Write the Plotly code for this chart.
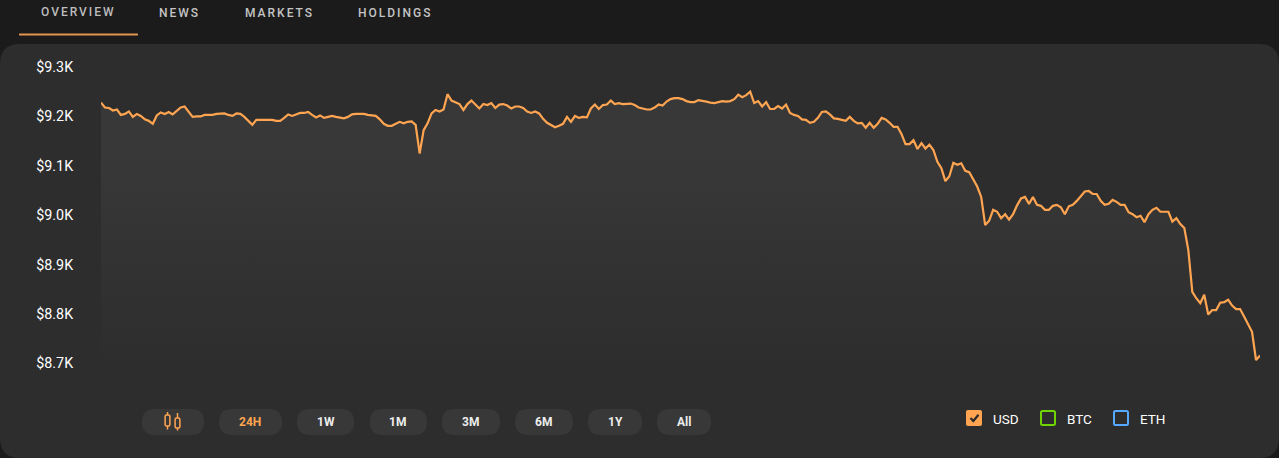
import plotly.graph_objects as go

W, H = 1279, 458
ML, MR, MT, MB = 101, 19, 50, 78

price = [
9226,9216,9215,9210,9212,9201,9203,9208,9197,9203,9199,9192,9189,9183,9200,9206,9203,9207,9202,9210,
9216,9218,9208,9197,9198,9198,9201,9201,9201,9203,9204,9204,9201,9199,9204,9203,9197,9189,9181,9191,
9191,9191,9191,9191,9189,9189,9195,9202,9199,9202,9205,9205,9207,9201,9196,9200,9195,9197,9199,9197,
9195,9194,9197,9202,9203,9203,9203,9201,9200,9199,9192,9183,9179,9179,9183,9187,9184,9187,9188,9181,
9123,9170,9184,9204,9211,9208,9212,9243,9230,9227,9223,9211,9223,9230,9223,9214,9223,9221,9225,9215,
9222,9223,9220,9214,9218,9218,9215,9208,9205,9208,9204,9193,9185,9180,9176,9179,9183,9197,9187,9199,
9195,9197,9196,9214,9222,9213,9221,9222,9230,9223,9225,9223,9224,9224,9221,9216,9214,9212,9212,9216,
9222,9220,9228,9233,9235,9235,9233,9229,9227,9227,9231,9230,9228,9226,9225,9227,9229,9228,9229,9233,
9242,9237,9241,9248,9225,9229,9218,9227,9213,9213,9219,9214,9222,9205,9201,9199,9192,9191,9185,9187,
9195,9207,9208,9202,9194,9193,9191,9189,9197,9189,9184,9185,9175,9185,9175,9183,9195,9192,9185,9177,
9177,9162,9142,9142,9150,9132,9144,9133,9141,9130,9106,9093,9067,9077,9104,9100,9103,9088,9085,9071,
9056,9035,8978,8987,9009,9005,8992,9000,8989,9000,9018,9032,9035,9021,9035,9019,9017,9009,9009,9017,9019,
9014,9000,9016,9019,9027,9036,9046,9047,9041,9041,9027,9019,9021,9029,9025,9019,9019,9004,9000,8994,
8997,8984,9000,9009,9013,9005,9005,9005,8985,8992,8980,8972,8928,8843,8830,8820,8837,8797,8806,8806,
8821,8822,8827,8815,8808,8808,8793,8779,8762,8705,8714,
]
sample = list(range(len(price)))

y_ticks = [9300, 9200, 9100, 9000, 8900, 8800, 8700]
y_labels = ["$9.3K", "$9.2K", "$9.1K", "$9.0K", "$8.9K", "$8.8K", "$8.7K"]
y_range = [8664.5, 9332.4]

tabs = ["OVERVIEW", "NEWS", "MARKETS", "HOLDINGS"]
tab_centers = [78, 179.5, 279, 394.5]
periods = ["24H", "1W", "1M", "3M", "6M", "1Y", "All"]
period_spans = [(218, 281), (297, 354), (369, 426), (441, 499), (514, 572), (588, 642), (657, 711)]
period_pills = [(219, 282), (297, 354), (370, 427), (442, 500), (515, 573), (588, 642), (657, 711)]
currencies = ["USD", "BTC", "ETH"]
currency_boxes = [966, 1040, 1113]
currency_colors = ["#ffa552", "#6fd400", "#55aaff"]

BG = "#1b1b1b"
CARD = "#2d2d2d"
PILL = "#383838"
ORANGE = "#ffa552"


def px(x):
    return (x - ML) / (W - ML - MR)


def py(y):
    return 1 - (y - MT) / (H - MT - MB)


def P(x, y):
    return f"{px(x):.6f},{py(y):.6f}"


def rrect(x0, y0, x1, y1, r):
    return (
        f"M{P(x0 + r, y0)} L{P(x1 - r, y0)} Q{P(x1, y0)} {P(x1, y0 + r)} "
        f"L{P(x1, y1 - r)} Q{P(x1, y1)} {P(x1 - r, y1)} "
        f"L{P(x0 + r, y1)} Q{P(x0, y1)} {P(x0, y1 - r)} "
        f"L{P(x0, y0 + r)} Q{P(x0, y0)} {P(x0 + r, y0)} Z"
    )


shapes = []


def add_path(path, fill="rgba(0,0,0,0)", line=None, width=0, layer="below"):
    shapes.append(dict(type="path", path=path, xref="paper", yref="paper", layer=layer,
                       fillcolor=fill, line=dict(color=line or "rgba(0,0,0,0)", width=width)))


# Card and tab underline
add_path(rrect(0, 44, 1279, 458, 20), fill=CARD)
add_path(rrect(19, 33.5, 138, 35.5, 0.5), fill="#e2964f")

# Period pills
add_path(rrect(142, 409, 204, 435, 13), fill=PILL)
for a, b in period_pills:
    add_path(rrect(a, 409, b, 435, 13), fill=PILL)

# Candlestick icon
for cx, t, b, wt, wb in [(167.5, 415, 426, 412, 429.5), (177.5, 418, 428, 413, 430.5)]:
    add_path(rrect(cx - 2.4, t, cx + 2.4, b, 1.5), line=ORANGE, width=1.5, layer="above")
    add_path(f"M{P(cx, wt)} L{P(cx, t)} M{P(cx, b)} L{P(cx, wb)}", line=ORANGE, width=1.5, layer="above")

# Legend boxes
for i, (bx, col) in enumerate(zip(currency_boxes, currency_colors)):
    if i == 0:
        add_path(rrect(bx, 410, bx + 16, 426, 2), fill=col, layer="above")
    else:
        add_path(rrect(bx + 1, 411, bx + 15, 425, 1.5), line=col, width=2, layer="above")
add_path(f"M{P(970.5, 418)} L{P(973.3, 421)} L{P(978.5, 414.8)}", line="#2a2a2a", width=2.2, layer="above")

annotations = []


def label(text, x, y, size, color, weight=400):
    annotations.append(dict(text=text, xref="paper", yref="paper", x=px(x), y=py(y),
                            xanchor="center", yanchor="middle", showarrow=False,
                            font=dict(family="Roboto", size=size, color=color, weight=weight)))


for t, cx, yy, col in zip(tabs, tab_centers, [12, 13, 13, 13], ["#bdbdbd", "#c4c4c4", "#c4c4c4", "#c4c4c4"]):
    label(t, cx, yy, 12, col, 500)
for i, (t, (a, b)) in enumerate(zip(periods, period_spans)):
    label(t, (a + b) / 2 + (0.5 if i == 0 else 0), 422, 12, ORANGE if i == 0 else "#ececec", 700)
for t, bx in zip(currencies, currency_boxes):
    label(t, bx + 39.5, 419, 13.5, "#ffffff", 400)

fig = go.Figure(go.Scatter(
    x=sample, y=price, mode="lines",
    line=dict(color=ORANGE, width=2.2),
    fill="tozeroy",
    fillgradient=dict(type="vertical", start=8690, stop=9120,
                      colorscale=[[0, "rgba(56,56,56,0)"], [1, "rgba(56,56,56,1)"]]),
    fillcolor="rgba(0,0,0,0)",
    hoverinfo="skip",
))

fig.update_layout(
    width=W, height=H, autosize=False,
    margin=dict(l=ML, r=MR, t=MT, b=MB, pad=0),
    paper_bgcolor=BG, plot_bgcolor="rgba(0,0,0,0)",
    showlegend=False,
    shapes=shapes, annotations=annotations,
    font=dict(family="Roboto", color="#ffffff"),
    xaxis=dict(visible=False, range=[0, len(price) - 1]),
    yaxis=dict(range=y_range, tickvals=y_ticks, ticktext=y_labels, showgrid=False, zeroline=False,
               showline=False, ticks="outside", ticklen=24, tickcolor="rgba(0,0,0,0)",
               tickfont=dict(family="Roboto", size=14.3, color="#ffffff")),
)

post = """
document.documentElement.style.margin='0';document.body.style.margin='0';document.body.style.background='#1b1b1b';
document.querySelectorAll('.annotation-text').forEach(function(t){
  if(['OVERVIEW','NEWS','MARKETS','HOLDINGS'].indexOf(t.textContent)>=0){t.style.letterSpacing='2px';}
});
document.querySelectorAll('.ytick text').forEach(function(t){
  t.setAttribute('y', parseFloat(t.getAttribute('y')||0)+1);
});
"""
fig.write_html("out.html", config=dict(displayModeBar=False, responsive=False), post_script=post)
